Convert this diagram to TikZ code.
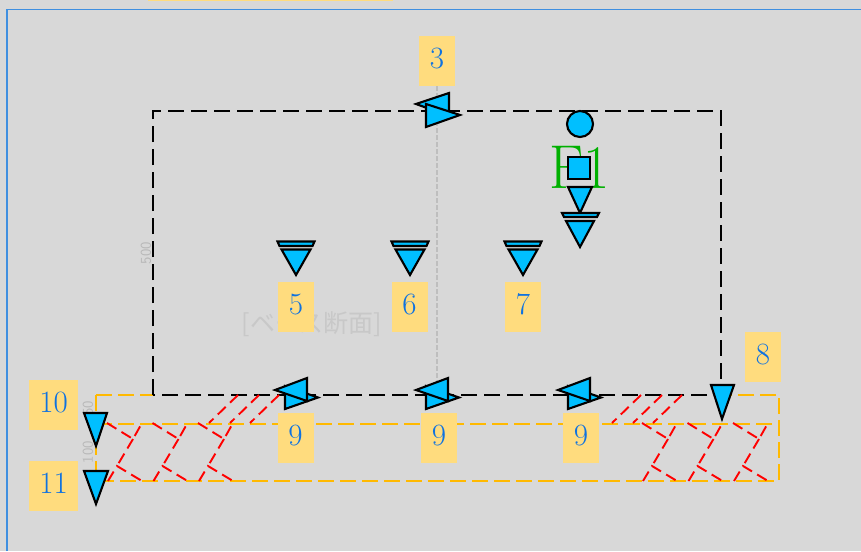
\documentclass[tikz,border=0pt]{standalone}
\usepackage{fontspec}
\newfontfamily\cjkfont{Noto Sans CJK JP}
\definecolor{panelgray}{HTML}{D8D8D8}
\definecolor{framblue}{HTML}{3F8FE0}
\definecolor{tagyellow}{HTML}{FFDC7E}
\definecolor{tagblue}{HTML}{0F72E0}
\definecolor{beamorange}{HTML}{FFB900}
\definecolor{markcyan}{HTML}{00BFFF}
\definecolor{forcegreen}{HTML}{00B000}
\definecolor{dimgray}{HTML}{BEBEBE}
\tikzset{
	tagbox/.style={fill=tagyellow,text=tagblue,minimum width=36pt,minimum height=50pt,inner sep=0pt,text depth=5pt,font=\fontsize{31}{31}\selectfont},
	widetag/.style={tagbox,minimum width=49pt},
	blackdash/.style={black,line width=2pt,dash pattern=on 16pt off 7pt},
	orangedash/.style={beamorange,line width=2.2pt,dash pattern=on 16pt off 6pt},
	reddash/.style={red,line width=1.9pt,dash pattern=on 11pt off 6pt},
	cyanmark/.style={draw=black,fill=markcyan,line width=2.1pt},
	dimtext/.style={text=black!28,font=\sffamily\fontsize{15}{15}\selectfont,rotate=90,inner sep=0pt},
}
\begin{document}
\begin{tikzpicture}[x=1pt,y=-1pt]
	\useasboundingbox (0,0) rectangle (861,551);
	\fill[panelgray] (0,0) rectangle (861,551);
	\fill[tagyellow] (148,0) rectangle (393,1.5);
	\draw[framblue,line width=1.6pt] (7,551) -- (7,9.5) -- (861,9.5);
	% section lines
	\draw[dimgray,line width=1.2pt,dash pattern=on 5pt off 2pt] (437,86) -- (437,395);
	\node[text=dimgray!85,font=\cjkfont\fontsize{25}{25}\selectfont,inner sep=0pt] (sectiontext) at (312,324) {[ベース断面]};
	\node[dimtext] (dimtop) at (146,253) {500};
	\node[dimtext] (dimbeam) at (88,408) {50};
	\node[dimtext] (dimdepth) at (88,452) {100};
	% beam
	\draw[orangedash] (96,395) -- (153,395);
	\draw[orangedash] (96,395) -- (96,481) -- (779,481) -- (779,395) -- (722,395);
	\draw[orangedash] (96,424) -- (779,424);
	% frame
	\draw[blackdash] (153,395) -- (153,111) -- (721,111) -- (721,395) -- cycle;
	% hatching
	\foreach \x in {0,21,41} {
		\draw[reddash] (238+\x,395) -- (209+\x,423);
		\draw[reddash] (641+\x,395) -- (612+\x,423);
	}
	\foreach \x in {0,45.5,91,535,580.5,626} {
		\draw[reddash] (107+\x,423) -- (133+\x,439) -- (142+\x,423);
		\draw[reddash] (133+\x,439) -- (117+\x,466);
		\draw[reddash] (108+\x,481) -- (117+\x,466) -- (142+\x,481);
	}
	% supports on the left and at the right end
	\draw[cyanmark] (84,413) -- (107,413) -- (96,446) -- cycle;
	\draw[cyanmark] (84,471) -- (108,471) -- (96,504) -- cycle;
	\draw[cyanmark] (711,385) -- (734,385) -- (722,419) -- cycle;
	% loads
	\foreach \x in {296,410,523} {
		\draw[cyanmark] (\x-18.5,241.5) -- (\x+18.5,241.5) -- (\x+16.5,246) -- (\x-16.5,246) -- cycle;
		\draw[cyanmark] (\x-14.5,249.5) -- (\x+14.5,249.5) -- (\x,275) -- cycle;
	}
	% valve marks
	\draw[cyanmark] (416,104) -- (449,93) -- (449,116) -- cycle;
	\draw[cyanmark] (426,104) -- (460,115) -- (426,127) -- cycle;
	\foreach \x in {0,141,283} {
		\draw[cyanmark] (285+\x,386) -- (318+\x,397.5) -- (285+\x,409) -- cycle;
		\draw[cyanmark] (275+\x,390) -- (307+\x,378) -- (307+\x,401) -- cycle;
	}
	% F1 group
	\node[text=forcegreen,font=\fontsize{62}{62}\selectfont,inner sep=0pt,xscale=.92] (forcelabel) at (579.5,167) {F1};
	\draw[cyanmark] (580,124) circle (13);
	\draw[cyanmark] (568,157) rectangle (590,179);
	\draw[cyanmark] (568,187) -- (592,187) -- (580,213) -- cycle;
	\draw[cyanmark] (562,213) -- (599,213) -- (597,217) -- (564,217) -- cycle;
	\draw[cyanmark] (566,221) -- (594,221) -- (580,247) -- cycle;
	% tags
	\node[tagbox] (tagthree) at (437,61) {3};
	\node[tagbox] (tagfive) at (296,306.5) {5};
	\node[tagbox] (tagsix) at (409.5,306.5) {6};
	\node[tagbox] (tagseven) at (523,306.5) {7};
	\node[tagbox] (tageight) at (763,357) {8};
	\node[tagbox] (tagnineA) at (295.5,437.5) {9};
	\node[tagbox] (tagnineB) at (439,437.5) {9};
	\node[tagbox] (tagnineC) at (581,437.5) {9};
	\node[widetag] (tagten) at (53.5,404.5) {10};
	\node[widetag] (tageleven) at (53.5,485.5) {11};
\end{tikzpicture}
\end{document}
